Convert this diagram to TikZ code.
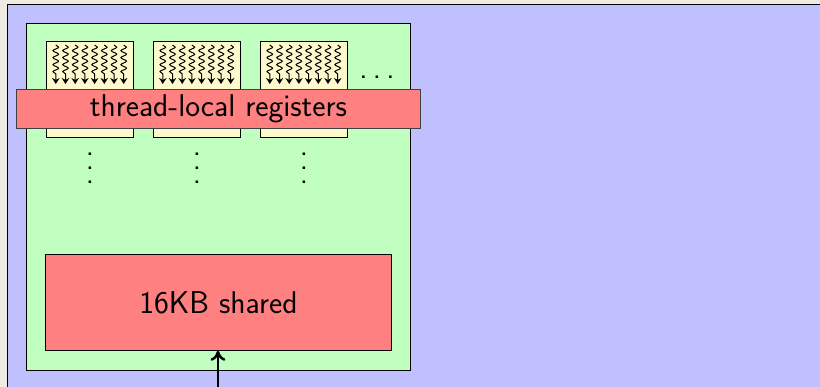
\documentclass[tikz,border=0pt]{standalone}
\usepackage{fontspec}
\usetikzlibrary{decorations.pathmorphing,arrows.meta,calc}
\definecolor{pagebg}{RGB}{239,235,226}
\definecolor{smblue}{RGB}{192,192,255}
\definecolor{mpgreen}{RGB}{192,255,192}
\definecolor{warpyellow}{RGB}{255,250,205}
\definecolor{memred}{RGB}{255,128,128}
\begin{document}
\begin{tikzpicture}[x=1pt,y=-1pt,
  panel/.style={draw=black, line width=0.8pt, inner sep=0pt, anchor=north west},
  warpbox/.style={panel, fill=warpyellow, minimum width=87pt, minimum height=96pt},
  bigtext/.style={font=\sffamily\fontsize{31.5}{36}\selectfont},
  membox/.style={bigtext, draw=black!75, line width=0.8pt, fill=memred, inner sep=0pt},
  thread/.style={line width=1pt, -{Stealth[length=6pt,width=7.5pt]},
    decorate, decoration={snake, amplitude=2.8pt, segment length=7pt, post length=7pt}},
  dotnode/.style={bigtext, inner sep=0pt}
]
\useasboundingbox (0,0) rectangle (820,387);
\clip (0,0) rectangle (820,387);
\fill[pagebg] (0,0) rectangle (820,387);

% multiprocessor frame
\node[panel, fill=smblue, minimum width=840pt, minimum height=420pt] (sm) at (7,4) {};
\node[panel, fill=mpgreen, minimum width=384pt, minimum height=347pt] (mp) at (26,23) {};

% warps of threads
\foreach \i/\x in {1/46,2/153,3/260}{
  \node[warpbox] (w\i) at (\x,41) {};
  \foreach \k in {0,...,7}{
    \coordinate (w\i s\k) at ($(w\i.north west)+(9.8+\k*9.7,4)$);
    \coordinate (w\i e\k) at ($(w\i.north west)+(9.8+\k*9.7,43)$);
    \draw[thread] (w\i s\k) -- (w\i e\k);
  }
}
\node[dotnode] (hdots) at (377,77) {.\kern5.2pt.\kern5.2pt.};

% registers
\node[membox, minimum width=404pt, minimum height=39pt, anchor=north west] (regs) at (16,89) {thread-local registers};

% further warps, one dot node per row
\foreach \i in {1,2,3}{
  \foreach \r in {0,1,2}{
    \node[dotnode] (v\i r\r) at ($(w\i.south)+(0,16+\r*14.2)$) {.};
  }
}

% shared memory
\node[membox, draw=black, minimum width=346pt, minimum height=96pt, anchor=north west] (shm) at (45,254) {16KB shared};
\coordinate (in) at (218,400);
\draw[line width=2.6pt, -{Computer Modern Rightarrow[length=10pt,width=15pt,line width=2.4pt]}] (in) -- (shm.south -| in);
\end{tikzpicture}
\end{document}
